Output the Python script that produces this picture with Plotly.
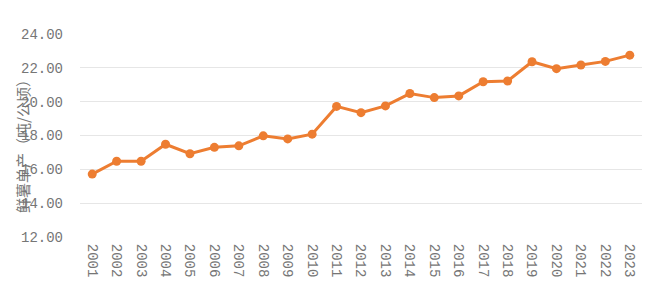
import plotly.graph_objects as go

years = [str(y) for y in range(2001, 2024)]
yield_values = [15.72, 16.48, 16.48, 17.48, 16.92, 17.30, 17.39, 17.98, 17.80, 18.08,
                19.72, 19.35, 19.75, 20.48, 20.24, 20.34, 21.18, 21.22, 22.36, 21.95,
                22.17, 22.38, 22.75]
y_ticks = [12, 14, 16, 18, 20, 22, 24]
y_title = "鲜薯单产（吨/公顷）"

ORANGE = "#ED7D31"
GRAY = "#767676"
FONT = "Liberation Mono"

fig = go.Figure()
fig.add_trace(go.Scatter(
    x=years, y=yield_values, mode="lines+markers",
    line=dict(color=ORANGE, width=3),
    marker=dict(color=ORANGE, size=9),
    showlegend=False,
))

fig.update_layout(
    width=650, height=284,
    margin=dict(l=80, r=8, t=34, b=47, autoexpand=False),
    paper_bgcolor="white", plot_bgcolor="white",
    xaxis=dict(
        type="category", tickangle=90, showgrid=False, showline=False,
        range=[-0.5, len(years) - 0.5],
        ticks="outside", ticklen=3, tickcolor="rgba(0,0,0,0)",
        tickfont=dict(family=FONT, size=14, color=GRAY), zeroline=False,
        automargin=False,
    ),
    yaxis=dict(
        range=[12, 24], tickvals=y_ticks,
        ticktext=[f"{v:.2f}" for v in y_ticks],
        showgrid=True, gridcolor="#e6e6e6", gridwidth=1,
        showline=False, zeroline=False, ticks="",
        ticklabelstandoff=16, automargin=False,
        tickfont=dict(family=FONT, size=14, color=GRAY),
    ),
    annotations=[dict(
        text=y_title, textangle=-90, showarrow=False,
        xref="paper", yref="paper", x=(22 - 80) / 562, y=(237 - 143) / 203,
        xanchor="center", yanchor="middle",
        font=dict(family="Noto Sans CJK SC", size=15, color=GRAY),
    )],
)

fig.write_html("out.html")
